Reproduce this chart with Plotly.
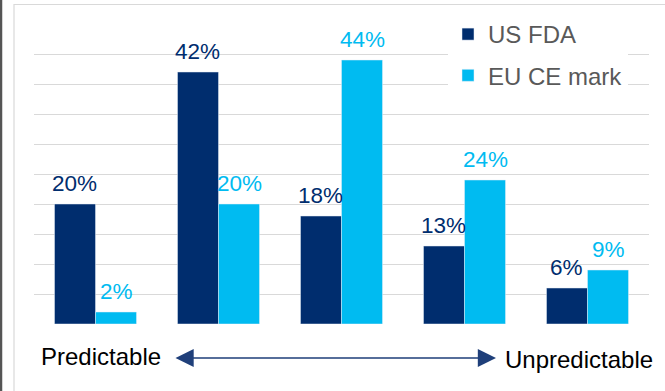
import plotly.graph_objects as go

categories = ["Level 1", "Level 2", "Level 3", "Level 4", "Level 5"]
us_fda = [20, 42, 18, 13, 6]
eu_ce = [2, 20, 44, 24, 9]
series_names = ["US FDA", "EU CE mark"]

DARK = "#002D6E"
LIGHT = "#00BBF1"
FONT = "Liberation Sans, Arial, sans-serif"

W, H = 665, 391
ML, MR, MT, MB = 34, 16, 24, 67
PW, PH = W - ML - MR, H - MT - MB


def px_x(p):
    return (p - ML) / PW


def px_y(p):
    return (H - MB - p) / PH


fig = go.Figure()
fig.add_trace(go.Bar(x=categories, y=us_fda, name=series_names[0], marker_color=DARK,
                     legendgroup="a"))
fig.add_trace(go.Bar(x=categories, y=eu_ce, name=series_names[1], marker_color=LIGHT,
                     legendgroup="b"))

annotations = []
bar_w = PW / len(categories) * (1 - 0.3333) / 2
for vals, col, shift in [(us_fda, DARK, -bar_w / 2), (eu_ce, LIGHT, bar_w / 2)]:
    for c, v in zip(categories, vals):
        annotations.append(dict(x=c, y=v, xref="x", yref="y", text=f"{v}%", showarrow=False,
                                xshift=shift, yshift=6, yanchor="bottom", xanchor="center",
                                font=dict(family=FONT, size=22.5, color=col)))

annotations.append(dict(x=px_x(39), y=px_y(356.5), xref="paper", yref="paper", text="Predictable",
                        showarrow=False, xanchor="left", yanchor="middle",
                        font=dict(family=FONT, size=24, color="#000000")))
annotations.append(dict(x=px_x(655), y=px_y(359), xref="paper", yref="paper", text="Unpredictable",
                        showarrow=False, xanchor="right", yanchor="middle",
                        font=dict(family=FONT, size=24, color="#000000")))
# double-headed arrow
annotations.append(dict(x=px_x(496), y=px_y(358), xref="paper", yref="paper", text="",
                        showarrow=True, ax=174 - 496, ay=0, axref="pixel", ayref="pixel",
                        arrowside="end+start", arrowhead=2, startarrowhead=2,
                        arrowsize=2.8, startarrowsize=2.8, arrowwidth=1.3,
                        arrowcolor="#1F3F7A", standoff=0, startstandoff=0))

shapes = [
    # white area behind legend
    dict(type="rect", xref="x domain", yref="y domain", x0=px_x(425), x1=1.0, y0=px_y(100), y1=1.01,
         fillcolor="white", line=dict(width=0), layer="below"),
    # outer light frame
    dict(type="rect", xref="paper", yref="paper", x0=px_x(14), x1=px_x(680), y0=px_y(410), y1=px_y(4.5),
         fillcolor="rgba(0,0,0,0)", line=dict(color="#D9D9D9", width=1.2), layer="below"),
    # dark left edge
    dict(type="line", xref="paper", yref="paper", x0=px_x(1), x1=px_x(1), y0=px_y(H), y1=px_y(0),
         line=dict(color="#555555", width=2.5)),
]

fig.update_layout(
    width=W, height=H,
    margin=dict(l=ML, r=MR, t=MT, b=MB, pad=0),
    paper_bgcolor="white", plot_bgcolor="white",
    barmode="group", bargap=0.3333, bargroupgap=0,
    showlegend=True,
    legend=dict(x=px_x(448), y=px_y(12), xanchor="left", yanchor="top",
                bgcolor="white", font=dict(family=FONT, size=24, color="#595959"),
                tracegroupgap=7, traceorder="grouped"),
    annotations=annotations,
    shapes=shapes,
    xaxis=dict(showticklabels=False, showgrid=False, zeroline=False, showline=False, ticks=""),
    yaxis=dict(range=[0, 50], dtick=5, showticklabels=False, showgrid=True, gridcolor="#D9D9D9",
               gridwidth=1.2, zeroline=False, showline=False, ticks=""),
)

fig.write_html("out.html")
